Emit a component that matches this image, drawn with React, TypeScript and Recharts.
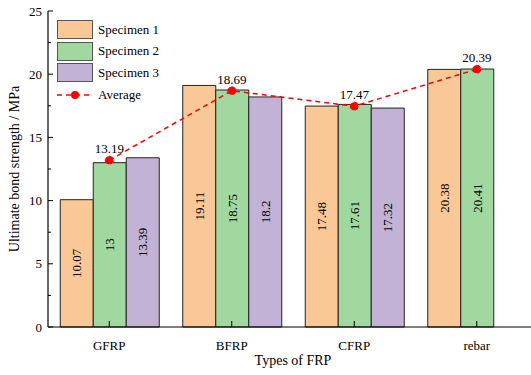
import { ComposedChart, Bar, Line, XAxis, YAxis, Legend, LabelList } from 'recharts'

const categories = ['GFRP', 'BFRP', 'CFRP', 'rebar']
const specimen1 = [10.07, 19.11, 17.48, 20.38]
const specimen2 = [13, 18.75, 17.61, 20.41]
const specimen3: (number | null)[] = [13.39, 18.2, 17.32, null]
const average = [13.19, 18.69, 17.47, 20.39]
const yTicks = [0, 2.5, 5, 7.5, 10, 12.5, 15, 17.5, 20, 22.5, 25]

const seriesNames = ['Specimen 1', 'Specimen 2', 'Specimen 3']
const seriesColors = ['#FAC896', '#A0D8A0', '#C2B2D6']

const FONT = '"Liberation Serif", "Times New Roman", serif'

const data = categories.map((name, i) => ({
  name,
  s1: specimen1[i],
  s2: specimen2[i],
  s3: specimen3[i],
  avg: average[i],
}))

function YTick({ x, y, payload }: any) {
  const v = payload.value
  const major = v % 5 === 0
  const axisX = x + 6
  return (
    <g>
      <line x1={axisX} x2={axisX + (major ? 5 : 3)} y1={y} y2={y} stroke="#000" strokeWidth={1} />
      {major && (
        <text x={x} y={y} textAnchor="end" dominantBaseline="central" fontSize={13} fontFamily={FONT} fill="#000">
          {v}
        </text>
      )}
    </g>
  )
}

function XTick({ x, y, payload }: any) {
  const axisY = y - 10
  return (
    <g>
      <line x1={x} x2={x} y1={axisY} y2={axisY - 6} stroke="#000" strokeWidth={1} />
      <text x={x} y={axisY + 18} textAnchor="middle" dominantBaseline="central" fontSize={13} fontFamily={FONT} fill="#000">
        {payload.value}
      </text>
    </g>
  )
}

function LegendBox() {
  return (
    <div style={{ fontFamily: FONT, fontSize: 13, color: '#000' }}>
      {seriesNames.map((n, i) => (
        <div key={n} style={{ display: 'flex', alignItems: 'center', height: 21.5 }}>
          <span
            style={{
              display: 'inline-block',
              width: 34,
              height: 17,
              background: seriesColors[i],
              border: '1px solid #555',
              marginRight: 5,
            }}
          />
          {n}
        </div>
      ))}
      <div style={{ display: 'flex', alignItems: 'center', height: 23 }}>
        <svg width={36} height={10} style={{ marginRight: 5 }}>
          <line x1={0} x2={36} y1={5} y2={5} stroke="#FF0000" strokeWidth={1.5} strokeDasharray="5 4" />
          <circle cx={18} cy={5} r={4} fill="#FF0000" />
        </svg>
        Average
      </div>
    </div>
  )
}

export default function App() {
  return (
    <div style={{ position: 'fixed', left: 0, top: 0, width: 531, height: 375, overflow: 'hidden', background: '#fff' }}>
      <ComposedChart
        width={540}
        height={375}
        data={data}
        margin={{ top: 11, right: 2, bottom: 0, left: 0 }}
        barCategoryGap="10%"
        barGap={0}
      >
        <XAxis
          dataKey="name"
          height={48}
          tickSize={0}
          tickMargin={10}
          tickLine={false}
          tick={<XTick />}
          axisLine={{ stroke: '#000', strokeWidth: 1.2 }}
          label={({ viewBox }: any) => (
            <text
              x={viewBox.x + viewBox.width / 2}
              y={viewBox.y + 33}
              textAnchor="middle"
              dominantBaseline="central"
              fontSize={14}
              fontFamily={FONT}
              fill="#000"
            >
              Types of FRP
            </text>
          )}
        />
        <XAxis
          xAxisId="top"
          dataKey="name"
          orientation="top"
          height={0}
          tick={false}
          tickLine={false}
          axisLine={{ stroke: '#000', strokeWidth: 1.2 }}
        />
        <YAxis
          width={48}
          domain={[0, 25]}
          ticks={yTicks}
          interval={0}
          tickSize={0}
          tickMargin={6}
          tickLine={false}
          tick={<YTick />}
          axisLine={{ stroke: '#000', strokeWidth: 1.2 }}
          label={({ viewBox }: any) => {
            const cx = 14
            const cy = viewBox.y + viewBox.height / 2
            return (
              <text
                x={cx}
                y={cy}
                transform={`rotate(-90 ${cx} ${cy})`}
                textAnchor="middle"
                dominantBaseline="central"
                fontSize={14}
                fontFamily={FONT}
                fill="#000"
              >
                Ultimate bond strength / MPa
              </text>
            )
          }}
        />
        <Legend
          layout="vertical"
          align="center"
          verticalAlign="middle"
          content={<LegendBox />}
          wrapperStyle={{ top: 19, left: 57, width: 130, height: 90 }}
        />
        {['s1', 's2', 's3'].map((key, i) => (
          <Bar
            key={key}
            dataKey={key}
            name={seriesNames[i]}
            fill={seriesColors[i]}
            stroke="#222"
            strokeWidth={1}
            isAnimationActive={false}
          >
            <LabelList
              dataKey={key}
              position="center"
              angle={-90}
              fontSize={13}
              fontFamily={FONT}
              fill="#000"
            />
          </Bar>
        ))}
        <Line
          dataKey="avg"
          name="Average"
          type="linear"
          stroke="#FF0000"
          strokeWidth={1.5}
          strokeDasharray="5 4"
          dot={{ r: 4, fill: '#FF0000', stroke: '#FF0000', strokeWidth: 1 }}
          isAnimationActive={false}
        >
          <LabelList dataKey="avg" position="top" offset={7} fontSize={13} fontFamily={FONT} fill="#000" />
        </Line>
      </ComposedChart>
    </div>
  )
}
